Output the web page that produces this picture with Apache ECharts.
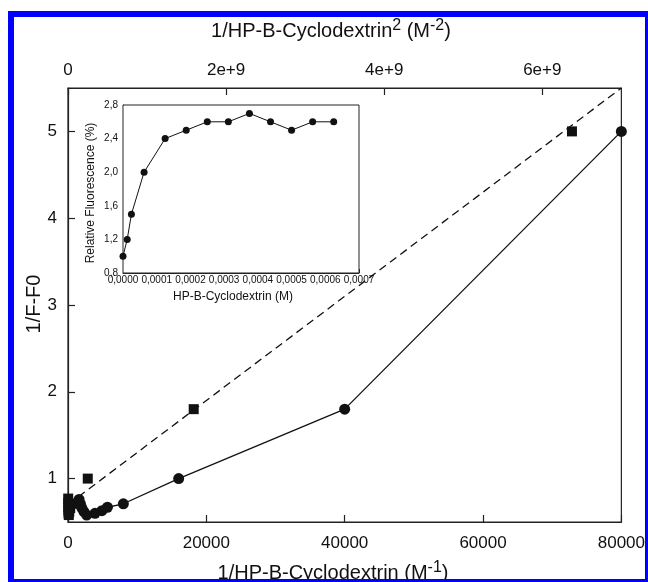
<!DOCTYPE html>
<html><head><meta charset="utf-8">
<script src="https://cdn.jsdelivr.net/npm/echarts@6/dist/echarts.min.js"></script>
<style>html,body{margin:0;padding:0;background:#fff}#c{width:648px;height:582px}</style>
</head><body><div id="c"></div>
<script>
// Main plot: circles vs 1/[CD] (bottom axis)
const invConc = [80000, 40000, 16000, 8000, 5700, 4900, 3900, 2700, 2300, 2000, 1800, 1600];
const invConcY = [5.0, 1.8, 1.0, 0.71, 0.67, 0.63, 0.60, 0.58, 0.62, 0.66, 0.71, 0.76];
// Main plot: squares vs 1/[CD]^2 (top axis)
const invConcSq = [6.375e9, 1.59e9, 2.5e8, 6.4e7, 2.8e7, 1.6e7, 1.0e7, 7.1e6, 5.2e6, 4.0e6, 3.2e6, 2.6e6];
const invConcSqY = [5.0, 1.8, 1.0, 0.71, 0.66, 0.62, 0.58, 0.60, 0.63, 0.67, 0.72, 0.77];
// Dashed fit line (top axis)
const fitX = [0, 7e9];
const fitY = [0.7, 5.5];
// Inset
const insetConc = [0, 0.0000125, 0.000025, 0.0000625, 0.000125, 0.0001875, 0.00025, 0.0003125, 0.000375, 0.0004375, 0.0005, 0.0005625, 0.000625];
const insetFluo = [1.0, 1.2, 1.5, 2.0, 2.4, 2.5, 2.6, 2.6, 2.7, 2.6, 2.5, 2.6, 2.6];
// Tick labels
const yTicks = [1, 2, 3, 4, 5];
const topTicks = [0, 2e9, 4e9, 6e9];
const topTickLabels = ['0', '2e+9', '4e+9', '6e+9'];

const FONT = '"Liberation Sans", Arial, sans-serif';
const INK = '#111';
const AX = '#222';

const chart = echarts.init(document.getElementById('c'), null, {renderer: 'canvas'});

function pairs(xs, ys) { return xs.map((x, i) => [x, ys[i]]); }

const option = {
  animation: false,
  backgroundColor: '#fff',
  grid: [
    {left: 68, top: 88, width: 558, height: 434, show: true, borderColor: AX, borderWidth: 1.2, backgroundColor: 'transparent'},
    {left: 123, top: 105, width: 236, height: 168, show: true, borderColor: AX, borderWidth: 1, backgroundColor: '#fff', z: 5}
  ],
  xAxis: [
    {gridIndex: 0, type: 'value', position: 'bottom', min: 0, max: 80000, interval: 20000,
     axisLine: {onZero: false, lineStyle: {color: AX, width: 1.2}},
     axisTick: {inside: true, length: 7, lineStyle: {color: AX, width: 1.2}},
     axisLabel: {margin: 13, fontSize: 17, color: INK, fontFamily: FONT, formatter: v => String(v)},
     splitLine: {show: false}},
    {gridIndex: 0, type: 'value', position: 'top', min: 0, max: 7e9,
     axisLine: {onZero: false, lineStyle: {color: AX, width: 1.2}},
     axisTick: {inside: true, length: 7, customValues: topTicks, lineStyle: {color: AX, width: 1.2}},
     axisLabel: {margin: 9, fontSize: 17, color: INK, fontFamily: FONT, customValues: topTicks,
       formatter: v => { const i = topTicks.indexOf(v); return i >= 0 ? topTickLabels[i] : ''; }},
     splitLine: {show: false}},
    {gridIndex: 1, type: 'value', min: 0, max: 0.0007, interval: 0.0001,
     axisLine: {onZero: false, lineStyle: {color: AX, width: 1}},
     axisTick: {inside: true, length: 4, lineStyle: {color: AX, width: 1}},
     axisLabel: {margin: 2, fontSize: 10, color: INK, fontFamily: FONT,
       formatter: v => v.toFixed(4).replace('.', ',')},
     splitLine: {show: false}}
  ],
  yAxis: [
    {gridIndex: 0, type: 'value', min: 0.5, max: 5.5,
     axisLine: {onZero: false, lineStyle: {color: AX, width: 1.2}},
     axisTick: {inside: true, length: 7, customValues: yTicks, lineStyle: {color: AX, width: 1.2}},
     axisLabel: {margin: 11, fontSize: 17, color: INK, fontFamily: FONT, customValues: yTicks},
     splitLine: {show: false}},
    {gridIndex: 1, type: 'value', min: 0.8, max: 2.8, interval: 0.4,
     axisLine: {onZero: false, lineStyle: {color: AX, width: 1}},
     axisTick: {inside: true, length: 4, lineStyle: {color: AX, width: 1}},
     axisLabel: {margin: 5, fontSize: 10, color: INK, fontFamily: FONT,
       formatter: v => v.toFixed(1).replace('.', ',')},
     splitLine: {show: false}}
  ],
  series: [
    {type: 'line', xAxisIndex: 1, yAxisIndex: 0, data: pairs(fitX, fitY), showSymbol: false, symbol: 'none',
     lineStyle: {color: INK, width: 1.3, type: [8, 5]}, z: 2, silent: true},
    {type: 'line', xAxisIndex: 0, yAxisIndex: 0, data: pairs(invConc, invConcY), symbol: 'circle', symbolSize: 11,
     itemStyle: {color: INK, opacity: 1}, lineStyle: {color: INK, width: 1.3}, clip: false, z: 3},
    {type: 'scatter', xAxisIndex: 1, yAxisIndex: 0, data: pairs(invConcSq, invConcSqY), symbol: 'rect', symbolSize: 10,
     itemStyle: {color: INK, opacity: 1}, clip: false, z: 3},
    {type: 'line', xAxisIndex: 2, yAxisIndex: 1, data: pairs(insetConc, insetFluo), symbol: 'circle', symbolSize: 7,
     itemStyle: {color: INK, opacity: 1}, lineStyle: {color: INK, width: 1}, clip: false, z: 6}
  ],
  graphic: [
    {type: 'text', x: 331, y: 31, z: 50,
     style: {text: '1/HP-B-Cyclodextrin{s|2} (M{s|-2})', font: '20px ' + FONT, fill: INK,
       align: 'center', verticalAlign: 'middle', textAlign: 'center', textVerticalAlign: 'middle', lineHeight: 26,
       rich: {s: {fontSize: 16, fontFamily: FONT, lineHeight: 12, verticalAlign: 'top', fill: INK}}}},
    {type: 'text', x: 333, y: 573, z: 50,
     style: {text: '1/HP-B-Cyclodextrin (M{s|-1})', font: '20px ' + FONT, fill: INK,
       align: 'center', verticalAlign: 'middle', textAlign: 'center', textVerticalAlign: 'middle', lineHeight: 26,
       rich: {s: {fontSize: 16, fontFamily: FONT, lineHeight: 12, verticalAlign: 'top', fill: INK}}}},
    {type: 'text', x: 34, y: 304, rotation: Math.PI / 2, z: 50,
     style: {text: '1/F-F0', font: '20px ' + FONT, fill: INK,
       align: 'center', verticalAlign: 'middle', textAlign: 'center', textVerticalAlign: 'middle'}},
    {type: 'text', x: 233, y: 297, z: 50,
     style: {text: 'HP-B-Cyclodextrin (M)', font: '12px ' + FONT, fill: INK,
       align: 'center', verticalAlign: 'middle', textAlign: 'center', textVerticalAlign: 'middle'}},
    {type: 'text', x: 91, y: 193, rotation: Math.PI / 2, z: 50,
     style: {text: 'Relative Fluorescence (%)', font: '12px ' + FONT, fill: INK,
       align: 'center', verticalAlign: 'middle', textAlign: 'center', textVerticalAlign: 'middle'}},
    {type: 'rect', z: 100, silent: true,
     shape: {x: 11, y: 14, width: 637, height: 568},
     style: {fill: 'none', stroke: '#0000fe', lineWidth: 6}}
  ]
};
chart.setOption(option);
</script>
</body></html>
